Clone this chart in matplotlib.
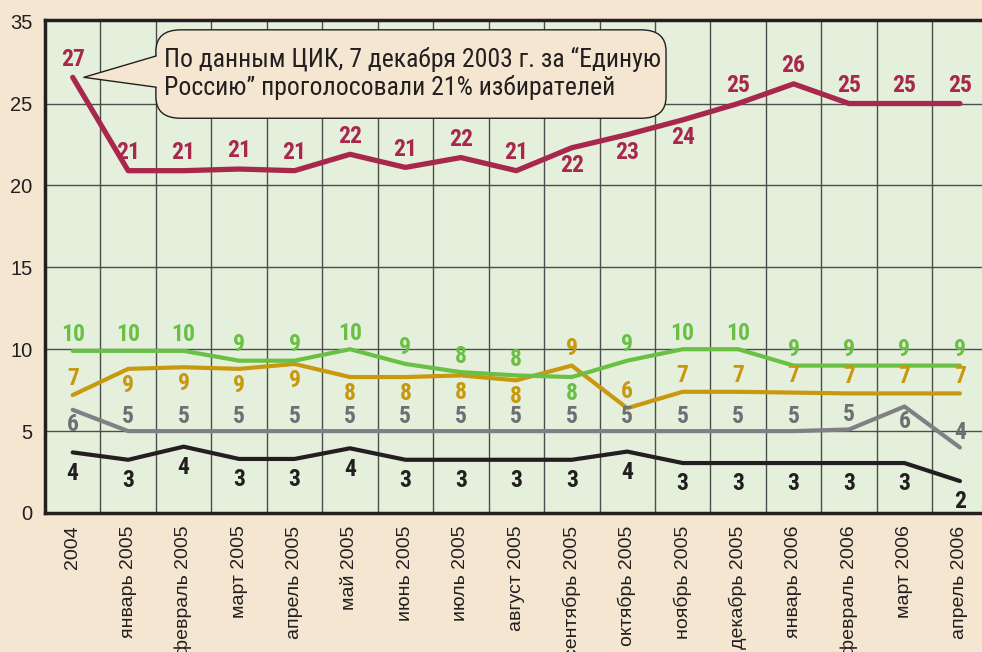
import matplotlib
matplotlib.use("Agg")
import matplotlib.pyplot as plt
from matplotlib.patches import FancyBboxPatch, Polygon

# месяцы опроса
months = ["2004", "январь 2005", "февраль 2005", "март 2005", "апрель 2005",
          "май 2005", "июнь 2005", "июль 2005", "август 2005", "сентябрь 2005",
          "октябрь 2005", "ноябрь 2005", "декабрь 2005", "январь 2006",
          "февраль 2006", "март 2006", "апрель 2006"]

# значения (как нарисованы на графике)
red = [26.6, 20.9, 20.9, 21.0, 20.9, 21.9, 21.1, 21.7, 20.9, 22.3, 23.1, 24.0,
       25.0, 26.2, 25.0, 25.0, 25.0]
green = [9.9, 9.9, 9.9, 9.3, 9.3, 10.0, 9.1, 8.6, 8.4, 8.3, 9.3, 10.0, 10.0,
         9.0, 9.0, 9.0, 9.0]
gold = [7.2, 8.8, 8.9, 8.8, 9.1, 8.3, 8.3, 8.4, 8.1, 9.0, 6.4, 7.4, 7.4, 7.35,
        7.3, 7.3, 7.3]
gray = [6.3, 5.0, 5.0, 5.0, 5.0, 5.0, 5.0, 5.0, 5.0, 5.0, 5.0, 5.0, 5.0, 5.0,
        5.1, 6.5, 4.0]
black = [3.7, 3.25, 4.05, 3.3, 3.3, 3.95, 3.25, 3.25, 3.25, 3.25, 3.75, 3.05,
         3.05, 3.05, 3.05, 3.05, 1.95]

# подписи у точек
red_lbl = [27, 21, 21, 21, 21, 22, 21, 22, 21, 22, 23, 24, 25, 26, 25, 25, 25]
green_lbl = [10, 10, 10, 9, 9, 10, 9, 8, 8, 8, 9, 10, 10, 9, 9, 9, 9]
gold_lbl = [7, 9, 9, 9, 9, 8, 8, 8, 8, 9, 6, 7, 7, 7, 7, 7, 7]
gray_lbl = [6, 5, 5, 5, 5, 5, 5, 5, 5, 5, 5, 5, 5, 5, 5, 6, 4]
black_lbl = [4, 3, 4, 3, 3, 4, 3, 3, 3, 3, 4, 3, 3, 3, 3, 3, 2]

yticks = [0, 5, 10, 15, 20, 25, 30]
ytick_labels = ["0", "5", "10", "15", "20", "25", "35"]

note = "По данным ЦИК, 7 декабря 2003 г. за “Единую\nРоссию” проголосовали 21% избирателей"

# где ставить подпись: 1 - над линией, -1 - под линией
side_red = [1] * 9 + [-1] * 3 + [1] * 5
side_green = [1] * 9 + [-1] + [1] * 7
side_gold = [1] + [-1] * 8 + [1] * 8
side_gray = [-1] + [1] * 14 + [-1, 1]
side_black = [-1] * 17

BG = "#f4e6d0"
FG = "#e4f0dc"
INK = "#231f20"
NARROW = ["Roboto Condensed", "PT Sans Narrow", "Liberation Sans Narrow",
          "Sofia Sans Condensed", "DejaVu Sans"]

fig = plt.figure(figsize=(9.82, 6.52), dpi=100, facecolor=BG)
ax = fig.add_axes([45 / 982, 139 / 652, 1 - 45 / 982, 493 / 652])
ax.set_facecolor(FG)

x = list(range(len(months)))
# (значения, подписи, сторона, цвет линии, цвет подписи, толщина, отступ подписи)
series = [
    (gold, gold_lbl, side_gold, "#c8980f", "#c8980f", 3.0, 12),
    (green, green_lbl, side_green, "#6abf45", "#6abf45", 3.0, 11.5),
    (gray, gray_lbl, side_gray, "#808084", "#6e6f73", 3.0, 10.5),
    (black, black_lbl, side_black, INK, INK, 3.0, 15),
    (red, red_lbl, side_red, "#a8284d", "#a8284d", 3.8, 13),
]
for vals, lbls, sides, col, tcol, lw, off in series:
    ax.plot(x, vals, color=col, lw=lw, solid_capstyle="round", zorder=3)
    for xi, v, t, s in zip(x, vals, lbls, sides):
        ax.annotate(str(t), (xi, v), xytext=(0, off * s), textcoords="offset points",
                    ha="center", va="center", color=tcol, fontsize=17,
                    fontweight="bold", family=NARROW, zorder=4)

ax.set_xlim(-0.5, -0.5 + 937 / 55.45)
ax.set_ylim(0, 30.1)

for xi in x[:-1]:
    ax.axvline(xi + 0.5, color="#4d4d4d", lw=1.0, zorder=1)
for yv in yticks[1:-1]:
    ax.axhline(yv, color="#4d4d4d", lw=1.0, zorder=1)

ax.set_yticks(yticks)
ax.set_yticklabels(ytick_labels, fontsize=14.5, family="Liberation Sans", color=INK)
ax.set_xticks(x)
ax.set_xticklabels(months, rotation=90, fontsize=14, family="Liberation Sans",
                   color=INK, va="top", ha="center")
ax.tick_params(axis="both", length=0)
ax.tick_params(axis="y", pad=9)
ax.tick_params(axis="x", pad=9)

for sp in ["left", "bottom", "top"]:
    ax.spines[sp].set_color(INK)
    ax.spines[sp].set_linewidth(2.5)
ax.spines["right"].set_visible(False)

# выноска
box = FancyBboxPatch((1.5, 24.1), 9.2, 5.4, boxstyle="round,pad=0,rounding_size=0.45",
                     mutation_aspect=2.9, fc=BG, ec=INK, lw=1.0, zorder=5)
ax.add_patch(box)
tip = (0.2, 26.6)
ax.add_patch(Polygon([(1.5 + 0.02, 27.9), tip, (1.5 + 0.02, 26.0)], closed=False,
                     fc=BG, ec="none", zorder=6))
ax.plot([1.5, tip[0], 1.5], [27.9, tip[1], 26.0], color=INK, lw=1.0, zorder=6)
ax.text(1.64, 26.85, note, fontsize=18.5, family=NARROW, color=INK,
        ha="left", va="center", linespacing=1.18, zorder=7)

fig.savefig("out.png", dpi=100, facecolor=BG)
